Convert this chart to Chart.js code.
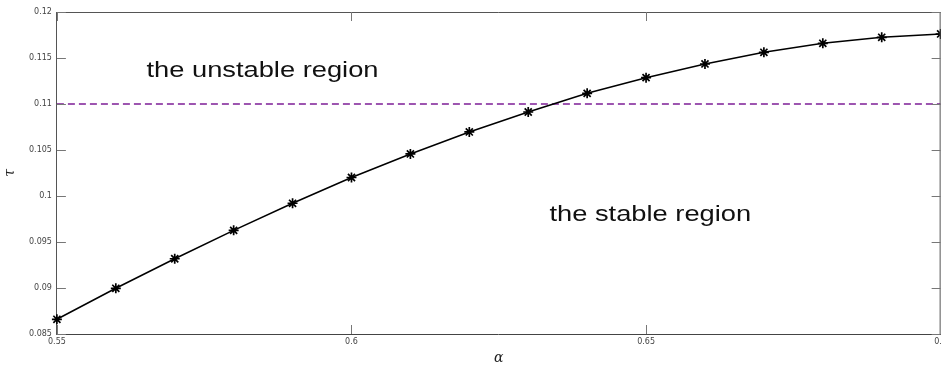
<!DOCTYPE html>
<html>
<head>
<meta charset="utf-8">
<script src="https://cdn.jsdelivr.net/npm/chart.js@4.4.1/dist/chart.umd.min.js"></script>
<style>
  html, body { margin: 0; padding: 0; background: #fff; overflow: hidden; }
  #wrap { width: 950px; height: 369px; }
</style>
</head>
<body>
<div id="wrap"><canvas id="chart" width="950" height="369"></canvas></div>
<script>
// données
const alpha = [0.55, 0.56, 0.57, 0.58, 0.59, 0.60, 0.61, 0.62, 0.63, 0.64, 0.65, 0.66, 0.67, 0.68, 0.69, 0.70];
const tau = [0.0866, 0.08997, 0.09318, 0.09627, 0.09921, 0.10201, 0.10457, 0.10696, 0.10913, 0.11116, 0.11286, 0.11435, 0.11562, 0.1166, 0.11725, 0.11761];

// limite de stabilite (ligne pointillee)
const limitAlpha = [0.55, 0.70];
const limitTau = [0.11, 0.11];

const xTicks = [0.55, 0.6, 0.65, 0.7];
const xTickLabels = ['0.55', '0.6', '0.65', '0.7'];
const yTicks = [0.085, 0.09, 0.095, 0.1, 0.105, 0.11, 0.115, 0.12];
const yTickLabels = ['0.085', '0.09', '0.095', '0.1', '0.105', '0.11', '0.115', '0.12'];

// textes dans la zone du graphe (en coordonnees alpha / tau)
const regionLabels = ['the unstable region', 'the stable region'];
const regionAlpha = [0.5652, 0.6336];
const regionTau = [0.11297, 0.09728];

(() => {
  'use strict'

  const toPoints = (xs, ys) => xs.map((v, i) => ({ x: v, y: ys[i] }));

  // cadre + ticks vers l'interieur (style matlab) + textes
  const framePlugin = {
    id: 'frame',
    afterDraw(chart) {
      const { ctx, chartArea: a, scales: { x, y } } = chart;
      ctx.save();
      ctx.strokeStyle = '#555';
      ctx.lineWidth = 1;
      ctx.beginPath();
      ctx.moveTo(a.left, a.top + 0.5); ctx.lineTo(a.right, a.top + 0.5);
      ctx.moveTo(a.right - 0.5, a.top); ctx.lineTo(a.right - 0.5, a.bottom);
      ctx.stroke();

      ctx.strokeStyle = '#777';
      ctx.beginPath();
      x.ticks.forEach(t => {
        const px = Math.round(x.getPixelForValue(t.value)) + 0.5;
        ctx.moveTo(px, a.bottom); ctx.lineTo(px, a.bottom - 9);
        ctx.moveTo(px, a.top); ctx.lineTo(px, a.top + 9);
      });
      y.ticks.forEach(t => {
        const py = Math.round(y.getPixelForValue(t.value)) + 0.5;
        ctx.moveTo(a.left, py); ctx.lineTo(a.left + 9, py);
        ctx.moveTo(a.right, py); ctx.lineTo(a.right - 9, py);
      });
      ctx.stroke();

      ctx.fillStyle = '#111';
      ctx.font = '22px "Liberation Sans", Arial, sans-serif';
      ctx.textBaseline = 'alphabetic';
      regionLabels.forEach((txt, i) => {
        ctx.save();
        ctx.translate(x.getPixelForValue(regionAlpha[i]), y.getPixelForValue(regionTau[i]));
        ctx.scale(1.24, 1); // la figure d'origine est etiree en largeur
        ctx.fillText(txt, 0, 0);
        ctx.restore();
      });
      ctx.restore();
    }
  };

  const tickFont = { family: '"DejaVu Sans", sans-serif', size: 8 };

  new Chart(document.getElementById('chart'), {
    type: 'line',
    data: {
      datasets: [{
        label: 'tau',
        data: toPoints(alpha, tau),
        borderColor: '#000',
        borderWidth: 1.5,
        tension: 0,
        pointStyle: 'star',
        pointRadius: 5,
        pointBorderWidth: 1.7,
        pointBorderColor: '#000',
        pointBackgroundColor: '#000',
        clip: false
      }, {
        label: 'limit',
        data: toPoints(limitAlpha, limitTau),
        borderColor: '#7E1E96',
        borderWidth: 1.5,
        borderDash: [7, 4],
        pointRadius: 0,
        tension: 0
      }]
    },
    options: {
      responsive: false,
      animation: false,
      layout: { padding: { top: 12, right: 6, left: 0, bottom: 0 } },
      plugins: { legend: { display: false }, tooltip: { enabled: false } },
      scales: {
        x: {
          type: 'linear',
          min: 0.55,
          max: 0.7,
          afterBuildTicks: s => { s.ticks = xTicks.map(v => ({ value: v })); },
          ticks: {
            padding: 3,
            maxRotation: 0,
            color: '#444',
            font: tickFont,
            callback: (v, i) => xTickLabels[i]
          },
          grid: { drawOnChartArea: false, drawTicks: false },
          border: { display: true, color: '#444', width: 1 },
          title: {
            display: true,
            text: 'α',
            color: '#222',
            font: { family: '"DejaVu Serif", serif', style: 'italic', size: 14 },
            padding: { top: 0, bottom: 2.6 }
          }
        },
        y: {
          min: 0.085,
          max: 0.12,
          afterBuildTicks: s => { s.ticks = yTicks.map(v => ({ value: v })); },
          ticks: {
            padding: 5,
            color: '#444',
            font: tickFont,
            callback: (v, i) => yTickLabels[i]
          },
          grid: { drawOnChartArea: false, drawTicks: false },
          border: { display: true, color: '#555', width: 1 },
          title: {
            display: true,
            text: 'τ',
            color: '#222',
            font: { family: '"DejaVu Serif", serif', style: 'italic', size: 14 },
            padding: { top: 1.6, bottom: 5.6 }
          }
        }
      }
    },
    plugins: [framePlugin]
  });
})();
</script>
</body>
</html>
